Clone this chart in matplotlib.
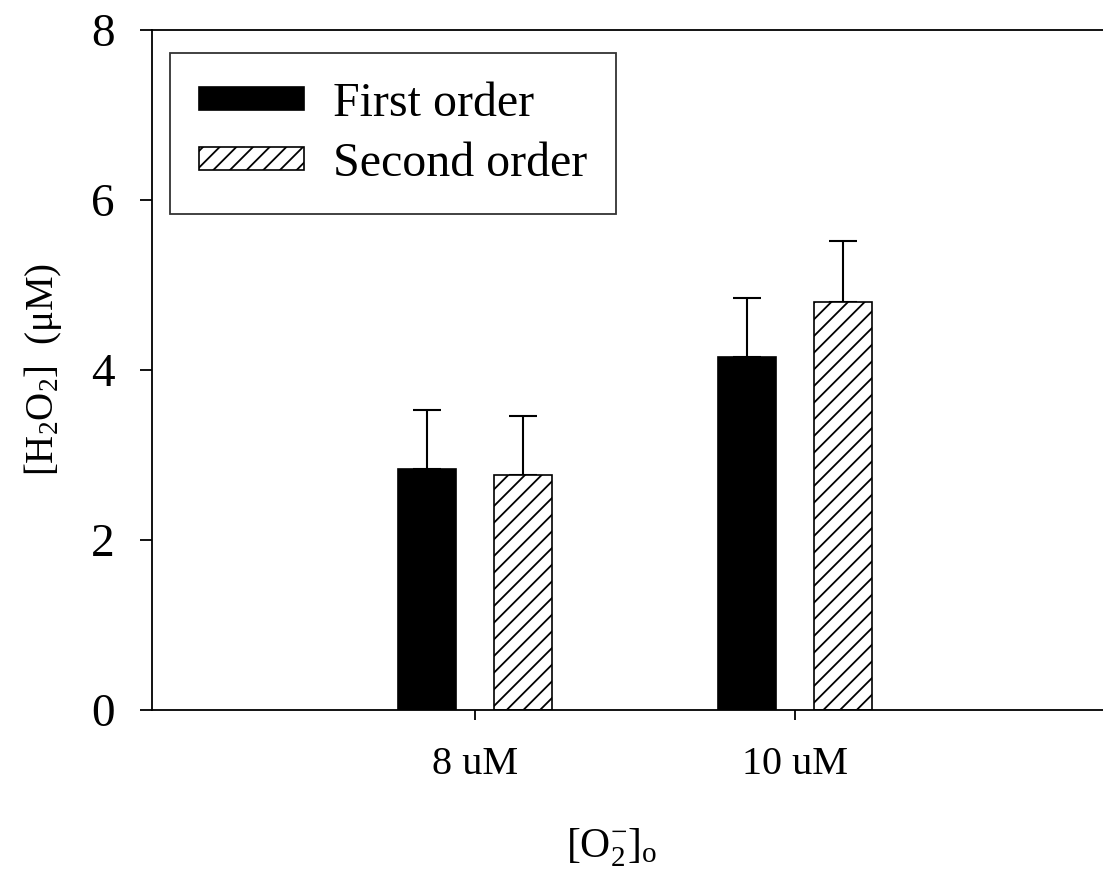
import numpy as np
import matplotlib
matplotlib.use('Agg')
import matplotlib.pyplot as plt

# Daten
groups = ['8 uM', '10 uM']
first_order = [2.83, 4.15]
first_err = [0.70, 0.70]
second_order = [2.76, 4.80]
second_err = [0.70, 0.72]

plt.rcParams['font.family'] = ['Liberation Serif', 'DejaVu Serif']
plt.rcParams['mathtext.fontset'] = 'custom'
plt.rcParams['mathtext.rm'] = 'Liberation Serif'
plt.rcParams['mathtext.it'] = 'Liberation Serif:italic'
plt.rcParams['hatch.linewidth'] = 1.3

fig = plt.figure(figsize=(11.03, 8.77), dpi=100)
ax = fig.add_axes([0.1378, 0.1904, 0.8622, 0.7754])

x = np.arange(len(groups))
w = 0.18
off = 0.15

ax.bar(x - off, first_order, w, color='black', edgecolor='black', linewidth=1.2,
       label='First order', zorder=2)
ax.bar(x + off, second_order, w, color='white', edgecolor='black', linewidth=1.2,
       hatch='//', label='Second order', zorder=2)
ax.errorbar(x - off, first_order, yerr=[np.zeros(2), first_err], fmt='none',
            ecolor='black', elinewidth=1.5, capsize=10, capthick=1.5, zorder=1)
ax.errorbar(x + off, second_order, yerr=[np.zeros(2), second_err], fmt='none',
            ecolor='black', elinewidth=1.5, capsize=10, capthick=1.5, zorder=1)

ax.set_xlim(-1.01, 1.9625)
ax.set_ylim(0, 8)
ax.set_yticks([0, 2, 4, 6, 8])
ax.set_xticks(x)
ax.set_xticklabels(groups)
ax.spines['right'].set_visible(False)
for s in ['left', 'bottom', 'top']:
    ax.spines[s].set_linewidth(1.3)
ax.tick_params(axis='y', direction='out', length=9, width=1.3, pad=18, labelsize=34)
ax.tick_params(axis='x', direction='out', length=7, width=1.3, pad=19, labelsize=29)

ax.set_ylabel('[H$_2$O$_2$]  (\u03bcM)', fontsize=28)
ax.yaxis.set_label_coords(-0.093, 0.5)
ax.set_xlabel('[O$_2^{-}$]$_\\mathrm{o}$', fontsize=30)
ax.xaxis.set_label_coords(0.483, -0.172)

leg = ax.legend(loc='upper left', bbox_to_anchor=(0.019, 0.966), fontsize=34.5,
                frameon=True, fancybox=False, edgecolor='black',
                handlelength=2.2, handleheight=0.36, handletextpad=0.6,
                labelspacing=0.33, borderpad=0.6, borderaxespad=0)
leg.get_frame().set_linewidth(1.3)

plt.savefig('out.png', dpi=100)
